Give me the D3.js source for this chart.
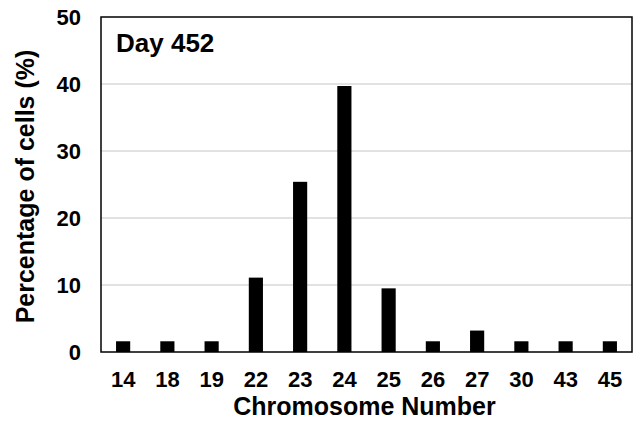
<!DOCTYPE html>
<html>
<head>
<meta charset="utf-8">
<script src="https://cdn.jsdelivr.net/npm/d3@7"></script>
<style>
  body { margin: 0; background: #fff; }
  text { font-family: "Liberation Sans", Arial, sans-serif; font-weight: bold; fill: #000; }
</style>
</head>
<body>
<div id="canvas"></div>
<script>
"use strict";

// chromosome counts and share of cells (%)
let chromosomes = ["14", "18", "19", "22", "23", "24", "25", "26", "27", "30", "43", "45"];
let percentages = [1.6, 1.6, 1.6, 11.1, 25.4, 39.7, 9.5, 1.6, 3.2, 1.6, 1.6, 1.6];
let yTicks = [0, 10, 20, 30, 40, 50];

let svgWidth = 638;
let svgHeight = 426;

let margin = { top: 17, right: 6, bottom: 74, left: 101 };

let svg = d3.select("#canvas")
    .append("svg")
    .attr("width", svgWidth)
    .attr("height", svgHeight);

let xScale = d3.scaleBand()
    .domain(chromosomes)
    .range([margin.left, svgWidth - margin.right])
    .paddingInner(0.68)
    .paddingOuter(0.34);

let yScale = d3.scaleLinear()
    .domain([0, 50])
    .range([svgHeight - margin.bottom, margin.top]);

/* ---- gridlines ---- */
svg.append("g")
    .selectAll("line")
    .data(yTicks.filter(d => d > 0 && d < 50))
    .join("line")
    .attr("x1", margin.left)
    .attr("x2", svgWidth - margin.right)
    .attr("y1", d => yScale(d))
    .attr("y2", d => yScale(d))
    .attr("stroke", "#d9d9d9")
    .attr("stroke-width", 1.5);

/* ---- bars ---- */
svg.append("g")
    .selectAll("rect")
    .data(chromosomes)
    .join("rect")
    .attr("x", d => xScale(d))
    .attr("y", (d, i) => yScale(percentages[i]))
    .attr("width", xScale.bandwidth())
    .attr("height", (d, i) => yScale(0) - yScale(percentages[i]))
    .attr("fill", "#000");

/* ---- frame ---- */
svg.append("rect")
    .attr("x", margin.left)
    .attr("y", margin.top)
    .attr("width", svgWidth - margin.left - margin.right)
    .attr("height", svgHeight - margin.top - margin.bottom)
    .attr("fill", "none")
    .attr("stroke", "#000")
    .attr("stroke-width", 1.5);

/* ---- y axis ---- */
let yAxis = d3.axisLeft(yScale)
    .tickValues(yTicks)
    .tickSize(0)
    .tickPadding(20);

let yAxisG = svg.append("g")
    .attr("transform", "translate(" + margin.left + ",0)")
    .call(yAxis);
yAxisG.select(".domain").remove();
yAxisG.selectAll("text")
    .attr("font-size", "22px")
    .attr("font-family", null);

/* ---- x axis ---- */
let xAxis = d3.axisBottom(xScale)
    .tickSize(0)
    .tickPadding(19);

let xAxisG = svg.append("g")
    .attr("transform", "translate(0," + yScale(0) + ")")
    .call(xAxis);
xAxisG.select(".domain").remove();
xAxisG.selectAll("text")
    .attr("font-size", "22px")
    .attr("font-family", null);

/* ---- titles ---- */
svg.append("text")
    .attr("x", (margin.left + svgWidth - margin.right) / 2 - 2)
    .attr("y", 415)
    .attr("text-anchor", "middle")
    .attr("font-size", "25px")
    .text("Chromosome Number");

svg.append("text")
    .attr("transform", "translate(34," + ((margin.top + yScale(0)) / 2 + 2) + ") rotate(-90)")
    .attr("text-anchor", "middle")
    .attr("font-size", "25px")
    .text("Percentage of cells (%)");

svg.append("text")
    .attr("x", 116)
    .attr("y", 52)
    .attr("font-size", "26px")
    .text("Day 452");
</script>
</body>
</html>
